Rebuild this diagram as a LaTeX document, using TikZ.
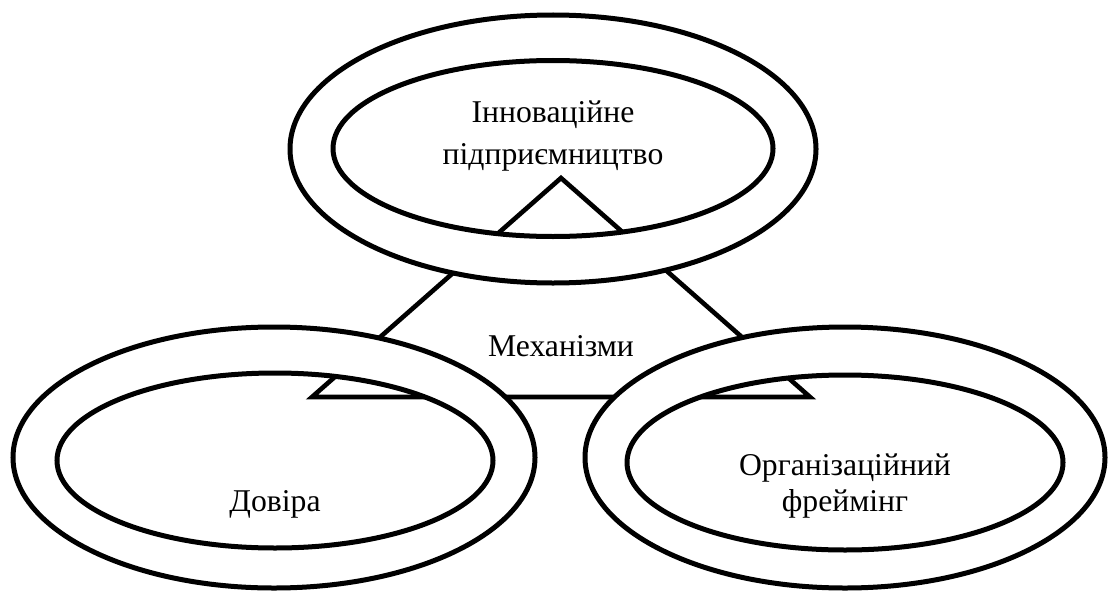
\documentclass[tikz,border=0pt]{standalone}
\usepackage{fontspec}
\setmainfont{Liberation Serif}
\begin{document}
\begin{tikzpicture}[x=1pt,y=-1pt,
  ring/.style={draw=black, line width=5pt, fill=white, even odd rule},
  tri/.style={draw=black, line width=4.6pt, fill=white, line join=miter},
  label/.style={inner sep=0pt, align=center, text=black}]
  \useasboundingbox (0,0) rectangle (1110,594);

  % central triangle, partly hidden by the rings
  \coordinate (apex) at (561,178);
  \coordinate (bl) at (312,397);
  \coordinate (br) at (810,397);
  \draw[tri] (apex) -- (bl) -- (br) -- cycle;

  % three double rings (inner holes left open)
  \path[ring] (553,149) ellipse [x radius=263pt, y radius=134pt]
              (553,148.5) ellipse [x radius=220pt, y radius=88pt];
  \path[ring] (274,457.5) ellipse [x radius=261pt, y radius=130.5pt]
              (275,460.5) ellipse [x radius=218pt, y radius=87.5pt];
  \path[ring] (845,457.5) ellipse [x radius=260pt, y radius=130.5pt]
              (845,462.5) ellipse [x radius=218pt, y radius=87.5pt];

  % labels
  \node[label, font=\fontsize{31.7}{41.5}\selectfont] (innov) at (553,136)
    {Інноваційне\\підприємництво};
  \node[label, font=\fontsize{31.7}{38}\selectfont, anchor=base] (mech) at (561,356)
    {Механізми};
  \node[label, font=\fontsize{31.7}{38}\selectfont, anchor=base] (trust) at (275,511)
    {Довіра};
  \node[label, font=\fontsize{31.7}{36.7}\selectfont] (frame) at (845,486)
    {Організаційний\\фреймінг};
\end{tikzpicture}
\end{document}
